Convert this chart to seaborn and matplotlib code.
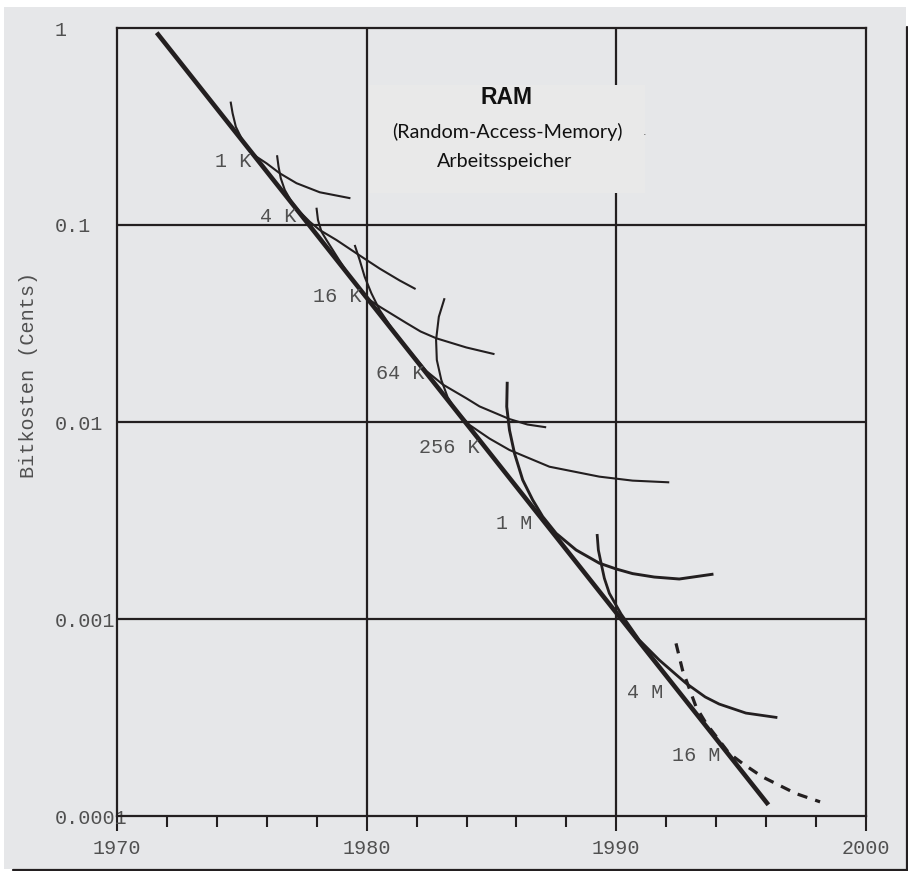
import matplotlib
matplotlib.use("Agg")
import matplotlib.pyplot as plt
import seaborn as sns
from matplotlib.patches import Rectangle
from matplotlib.lines import Line2D
from matplotlib.ticker import FixedLocator, NullLocator

# ---------------- data ----------------
trend_years = [1971.59, 1996.09]
trend_cost = [0.947, 0.000114]

k1_years = [1974.55, 1974.63, 1974.76, 1974.99, 1975.19, 1975.59, 1975.99, 1976.52, 1977.19, 1978.12, 1979.35]
k1_cost = [0.423, 0.369, 0.315, 0.275, 0.2497, 0.222, 0.2056, 0.183, 0.163, 0.1466, 0.1367]

k4_years = [1976.41, 1976.47, 1976.56, 1976.72, 1976.99, 1977.32, 1977.72, 1978.12, 1978.79, 1979.59, 1980.52, 1981.32, 1981.96]
k4_cost = [0.226, 0.198, 0.1726, 0.1506, 0.1313, 0.1168, 0.1039, 0.0943, 0.0839, 0.0718, 0.0601, 0.0523, 0.0473]

k16_years = [1977.99, 1978.05, 1978.19, 1978.39, 1978.92, 1979.40, 1979.92, 1980.52, 1981.59, 1982.16, 1982.79, 1983.99, 1985.12]
k16_cost = [0.1224, 0.106, 0.0925, 0.0839, 0.0657, 0.0532, 0.0433, 0.0385, 0.0318, 0.0288, 0.0266, 0.0239, 0.0221]

k64_years = [1979.52, 1979.72, 1979.92, 1980.19, 1980.52, 1981.0, 1981.52, 1981.92, 1982.39, 1983.05, 1983.99, 1984.52, 1985.72, 1986.44, 1987.19]
k64_cost = [0.0792, 0.0664, 0.0546, 0.045, 0.037, 0.030, 0.0246, 0.0214, 0.01815, 0.0155, 0.0132, 0.0120, 0.01035, 0.00971, 0.0094]

k256_years = [1983.12, 1982.89, 1982.78, 1982.81, 1982.99, 1983.24, 1983.56, 1984.12, 1984.92, 1985.72, 1987.32, 1989.32, 1990.65, 1992.12]
k256_cost = [0.0425, 0.0342, 0.0261, 0.02064, 0.01633, 0.0134, 0.0115, 0.00966, 0.00824, 0.00721, 0.00593, 0.00528, 0.00504, 0.00494]

m1_years = [1985.63, 1985.61, 1985.72, 1985.92, 1986.25, 1986.65, 1987.05, 1987.59, 1988.39, 1989.32, 1989.99, 1990.65, 1991.52, 1992.52, 1993.89]
m1_cost = [0.0160, 0.01196, 0.0091, 0.00694, 0.00508, 0.00402, 0.00331, 0.00272, 0.00224, 0.00192, 0.001795, 0.0017, 0.001633, 0.001596, 0.00169]

m4_years = [1989.23, 1989.28, 1989.39, 1989.52, 1989.72, 1990.19, 1990.92, 1991.72, 1992.79, 1993.56, 1994.12, 1995.19, 1996.45]
m4_cost = [0.0027, 0.00224, 0.00192, 0.00161, 0.00135, 0.00106, 0.000782, 0.000619, 0.000472, 0.000402, 0.00037, 0.000333, 0.000316]

m16_years = [1992.39, 1992.65, 1993.19, 1993.59, 1994.52, 1995.05, 1995.85, 1997.19, 1998.16]
m16_cost = [0.000752, 0.000551, 0.000359, 0.000296, 0.000208, 0.000185, 0.000158, 0.00013, 0.000118]

chip_labels = ["1 K", "4 K", "16 K", "64 K", "256 K", "1 M", "4 M", "16 M"]
label_years = [1975.4, 1977.2, 1979.8, 1982.32, 1984.52, 1986.64, 1991.88, 1994.16]
label_cost = [0.209, 0.11, 0.0436, 0.01753, 0.00746, 0.00307, 0.000426, 0.000204]

x_major = [1970, 1980, 1990, 2000]
x_minor = [1972, 1974, 1976, 1978, 1982, 1984, 1986, 1988, 1992, 1994, 1996, 1998]
y_ticks = [1, 0.1, 0.01, 0.001, 0.0001]
y_ticklabels = ["1", "0.1", "0.01", "0.001", "0.0001"]

# ---------------- style ----------------
sns.set_theme(style="white")
INK = "#231f20"
PANEL = "#e6e7e9"
TXT = "#505050"
MONO = ["Liberation Mono", "DejaVu Sans Mono"]

W, H = 908, 871
fig = plt.figure(figsize=(W / 100, H / 100), dpi=100, facecolor="white")

def fx(px):
    return px / W

def fy(py):
    return 1 - py / H

# gray panel and "shadow" frame lines
fig.patches.append(Rectangle((fx(4), fy(869)), fx(902), 862 / H, transform=fig.transFigure,
                             facecolor=PANEL, edgecolor="none", zorder=-5))
fig.lines.append(Line2D([fx(907), fx(907)], [fy(27), fy(871)], transform=fig.transFigure,
                        color=INK, lw=1.6, zorder=-4))
fig.lines.append(Line2D([fx(13), fx(908)], [fy(870), fy(870)], transform=fig.transFigure,
                        color=INK, lw=1.6, zorder=-4))

ax = fig.add_axes([fx(117), fy(816), fx(866 - 117), (816 - 28) / H])
ax.set_zorder(1)
ax.set_facecolor("none")

for yrs, cst, lw in [(k1_years, k1_cost, 1.5), (k4_years, k4_cost, 1.5),
                     (k16_years, k16_cost, 1.5), (k64_years, k64_cost, 1.5),
                     (k256_years, k256_cost, 1.5), (m1_years, m1_cost, 2.1),
                     (m4_years, m4_cost, 2.0)]:
    sns.lineplot(x=yrs, y=cst, ax=ax, color=INK, lw=lw, estimator=None, sort=False,
                 solid_capstyle="butt", solid_joinstyle="round", zorder=3)

sns.lineplot(x=m16_years, y=m16_cost, ax=ax, color=INK, lw=2.3, estimator=None, sort=False,
             zorder=3)
ax.lines[-1].set_dashes([3.2, 2.6])
sns.lineplot(x=trend_years, y=trend_cost, ax=ax, color=INK, lw=3.3, estimator=None, sort=False,
             solid_capstyle="butt", zorder=4)

ax.set_yscale("log")
ax.set_xlim(1970, 2000)
ax.set_ylim(0.0001, 1)

# grid
for gx in [1980, 1990]:
    ax.axvline(gx, color=INK, lw=1.6, zorder=1)
for gy in [0.1, 0.01, 0.001]:
    ax.axhline(gy, color=INK, lw=1.6, zorder=1)

for s in ax.spines.values():
    s.set_color(INK)
    s.set_linewidth(1.6)
    s.set_visible(True)

ax.xaxis.set_major_locator(FixedLocator(x_major))
ax.xaxis.set_minor_locator(FixedLocator(x_minor))
ax.set_xticklabels([str(v) for v in x_major], fontfamily=MONO, fontsize=14.5, color=TXT)
ax.tick_params(axis="x", which="major", direction="out", length=10.5, width=1.5, color=INK,
               bottom=True, pad=6)
ax.tick_params(axis="x", which="minor", direction="out", length=7.8, width=1.5, color=INK,
               bottom=True)

ax.yaxis.set_major_locator(FixedLocator(y_ticks))
ax.yaxis.set_minor_locator(NullLocator())
ax.set_yticklabels(y_ticklabels, fontfamily=MONO, fontsize=14.5, color=TXT, ha="left")
ax.tick_params(axis="y", which="major", length=0, pad=(117 - 55) * 0.72, left=True)
ax.set_xlabel("")
ax.set_ylabel("")

fig.text(fx(29), fy(375), "Bitkosten (Cents)", rotation=90, ha="center", va="center",
         fontfamily=MONO, fontsize=14.5, color=TXT)

# chip labels
for lab, lx, ly in zip(chip_labels, label_years, label_cost):
    ax.text(lx, ly, lab, ha="right", va="center", fontfamily=MONO, fontsize=14.5,
            color=TXT, zorder=5)

# title box
ax.add_patch(Rectangle((fx(369), fy(193)), fx(645 - 369), (193 - 85) / H,
                       transform=fig.transFigure, facecolor="#e9e9e9", edgecolor="none",
                       zorder=2))
fig.text(fx(507), fy(97), "RAM", ha="center", va="center", fontfamily="Liberation Sans",
         fontweight="bold", fontsize=16.5, color="#111111", zorder=5)
fig.text(fx(507), fy(132), "(Random-Access-Memory)", ha="center", va="center",
         fontfamily="Lato", fontsize=14.2, color="#111111", zorder=5)
fig.text(fx(505), fy(162), "Arbeitsspeicher", ha="center", va="center",
         fontfamily="Lato", fontsize=14.2, color="#111111", zorder=5)
fig.text(fx(645), fy(132), ".", ha="center", va="center", fontsize=8, color="#555555", zorder=5)

fig.savefig("out.png", dpi=100, facecolor="white")
